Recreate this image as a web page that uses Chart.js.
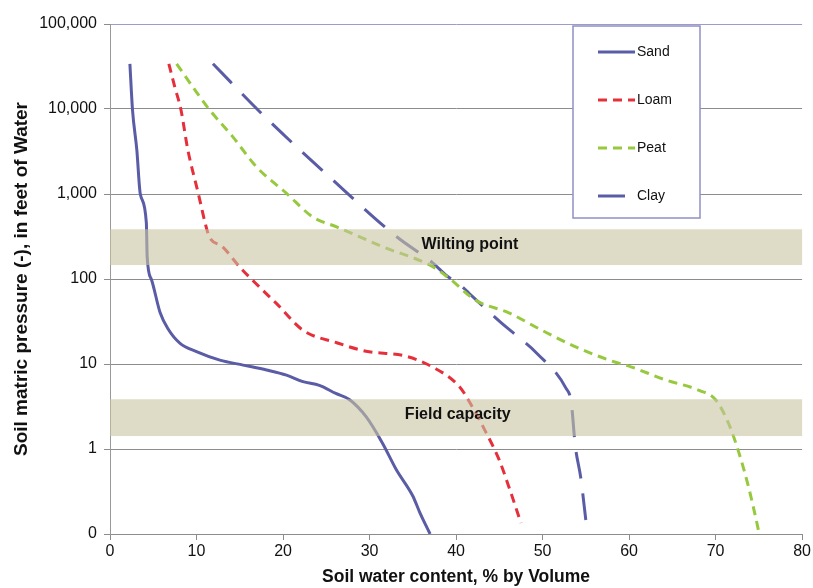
<!DOCTYPE html>
<html>
<head>
<meta charset="utf-8">
<script src="https://cdn.jsdelivr.net/npm/chart.js@4.4.1/dist/chart.umd.min.js"></script>
<style>
  html, body { margin: 0; padding: 0; background: #fff; }
</style>
</head>
<body>
<canvas id="chart" width="813" height="588"></canvas>
<script>
// soil water retention curves
const seriesNames = ['Sand', 'Loam', 'Peat', 'Clay'];

const sandX = [2.3, 2.6, 3.1, 3.5, 4.2, 4.3, 4.8, 5.8, 6.7, 8.1, 10.0, 12.7, 15.4, 18.1, 20.4, 22.3, 24.2, 26.1, 27.7, 29.6, 31.5, 33.1, 35.0, 35.8, 37.0];
const sandY = [34000, 9800, 3300, 1000, 460, 180, 98, 40, 26, 17.5, 14, 11.1, 9.7, 8.5, 7.4, 6.2, 5.6, 4.5, 3.8, 2.4, 1.17, 0.57, 0.28, 0.18, 0.1];

const loamX = [6.8, 7.5, 8.2, 9.0, 10.2, 11.2, 11.5, 13.0, 15.0, 17.3, 19.2, 22.3, 26.2, 29.6, 34.0, 37.3, 40.4, 41.9, 43.5, 45.0, 46.1, 47.5];
const loamY = [34000, 18000, 9800, 3300, 1020, 380, 310, 240, 138, 80, 52, 25, 17.8, 14.1, 12.5, 9.2, 5.4, 3.1, 1.54, 0.74, 0.36, 0.135];

const peatX = [7.7, 9.6, 11.5, 14.2, 16.9, 20.4, 23.4, 26.2, 31.5, 37.3, 39.2, 42.3, 46.1, 49.9, 53.9, 57.7, 60.3, 64.2, 68.1, 70.0, 71.5, 72.7, 73.8, 74.7, 75.0];
const peatY = [34000, 18000, 9800, 4700, 2100, 1020, 540, 410, 240, 140, 102, 56, 40, 25, 15.8, 11.1, 9.2, 6.5, 4.9, 3.8, 2.0, 0.9, 0.36, 0.146, 0.105];

const clayX = [11.9, 17.9, 25.6, 33.1, 37.3, 38.8, 40.7, 41.5, 45.3, 46.9, 49.3, 52.7, 53.3, 53.8, 54.4, 55.0];
const clayY = [34000, 8100, 1510, 316, 155, 112, 81, 68, 30, 22, 13.5, 5.2, 3.6, 1.05, 0.47, 0.146];

const yTicks = [0.1, 1, 10, 100, 1000, 10000, 100000];

// shaded ranges (pressure, feet of water) and their captions
const wiltingBand = [146, 385];
const fieldBand = [1.42, 3.85];
const bandLabels = ['Wilting point', 'Field capacity'];
const bandLabelX = [41.6, 40.2];

const toPoints = (xs, ys) => xs.map((x, i) => ({ x: x, y: ys[i] }));

const blue = '#5a5ca6';
const red = '#e5303b';
const green = '#97c93f';

const bandPlugin = {
  id: 'bands',
  afterDatasetsDraw(chart) {
    const { ctx, chartArea } = chart;
    const y = chart.scales.y;
    const x = chart.scales.x;
    ctx.save();
    [wiltingBand, fieldBand].forEach((band, i) => {
      const top = y.getPixelForValue(band[1]);
      const bottom = y.getPixelForValue(band[0]);
      ctx.fillStyle = 'rgba(200, 195, 160, 0.6)';
      ctx.fillRect(chartArea.left, top, chartArea.right - chartArea.left, bottom - top);
      ctx.fillStyle = '#111';
      ctx.font = 'bold 16px "Liberation Sans", Arial, sans-serif';
      ctx.textAlign = 'center';
      ctx.textBaseline = 'middle';
      ctx.fillText(bandLabels[i], x.getPixelForValue(bandLabelX[i]), (top + bottom) / 2 - 3);
    });
    ctx.restore();
  }
};

const legendPlugin = {
  id: 'boxLegend',
  afterDraw(chart) {
    const { ctx, chartArea } = chart;
    const left = chartArea.left + 463;
    const top = chartArea.top + 2;
    ctx.save();
    ctx.fillStyle = '#fff';
    ctx.fillRect(left, top, 127, 192);
    ctx.strokeStyle = '#8f8fc4';
    ctx.lineWidth = 1.5;
    ctx.strokeRect(left, top, 127, 192);
    chart.data.datasets.forEach((ds, i) => {
      const yy = top + 26 + i * 48;
      ctx.strokeStyle = ds.borderColor;
      ctx.lineWidth = 3;
      ctx.setLineDash(ds.borderDash || []);
      ctx.beginPath();
      ctx.moveTo(left + 25, yy);
      ctx.lineTo(left + 62, yy);
      ctx.stroke();
      ctx.setLineDash([]);
      ctx.fillStyle = '#111';
      ctx.font = '14px "Liberation Sans", Arial, sans-serif';
      ctx.textAlign = 'left';
      ctx.textBaseline = 'middle';
      ctx.fillText(ds.label, left + 64, yy);
    });
    ctx.restore();
  }
};

Chart.defaults.font.family = '"Liberation Sans", Arial, sans-serif';
Chart.defaults.color = '#111';

new Chart(document.getElementById('chart'), {
  type: 'line',
  data: {
    datasets: [
      { label: seriesNames[0], data: toPoints(sandX, sandY), borderColor: blue, borderWidth: 3 },
      { label: seriesNames[1], data: toPoints(loamX, loamY), borderColor: red, borderWidth: 3, borderDash: [9, 6] },
      { label: seriesNames[2], data: toPoints(peatX, peatY), borderColor: green, borderWidth: 3, borderDash: [9, 6] },
      { label: seriesNames[3], data: toPoints(clayX, clayY), borderColor: blue, borderWidth: 3, borderDash: [27, 15] }
    ]
  },
  options: {
    responsive: false,
    animation: false,
    layout: { padding: { top: 24, right: 10, left: 0, bottom: 0 } },
    elements: {
      point: { radius: 0 },
      line: { cubicInterpolationMode: 'monotone', borderCapStyle: 'butt' }
    },
    plugins: {
      legend: { display: false },
      tooltip: { enabled: false }
    },
    scales: {
      x: {
        type: 'linear',
        min: 0,
        max: 80,
        afterFit: (s) => { s.height = 54; },
        ticks: { stepSize: 10, autoSkip: false, maxRotation: 0, padding: 2, font: { size: 16 } },
        grid: { drawOnChartArea: false, tickLength: 6, color: '#8c8c8c' },
        border: { color: '#8c8c8c' },
        title: {
          display: true,
          text: 'Soil water content, % by Volume',
          font: { size: 17.5, weight: 'bold' },
          padding: { top: 0, bottom: 0 }
        }
      },
      y: {
        type: 'logarithmic',
        min: 0.1,
        max: 100000,
        afterFit: (s) => { s.width = 110; },
        afterBuildTicks: (s) => { s.ticks = yTicks.map((v) => ({ value: v })); },
        ticks: {
          autoSkip: false,
          padding: 7,
          font: { size: 16 },
          callback: (v) => (v < 1 ? '0' : Number(v).toLocaleString('en-US'))
        },
        grid: {
          color: (c) => (c.tick && c.tick.value === 100000 ? '#9c9cca' : '#8c8c8c'),
          tickColor: '#8c8c8c',
          tickLength: 6
        },
        border: { color: '#999' },
        title: {
          display: true,
          text: 'Soil matric pressure (-), in feet of Water',
          font: { size: 19, weight: 'bold' },
          padding: { top: 10, bottom: 0 }
        }
      }
    }
  },
  plugins: [bandPlugin, legendPlugin]
});
</script>
</body>
</html>
